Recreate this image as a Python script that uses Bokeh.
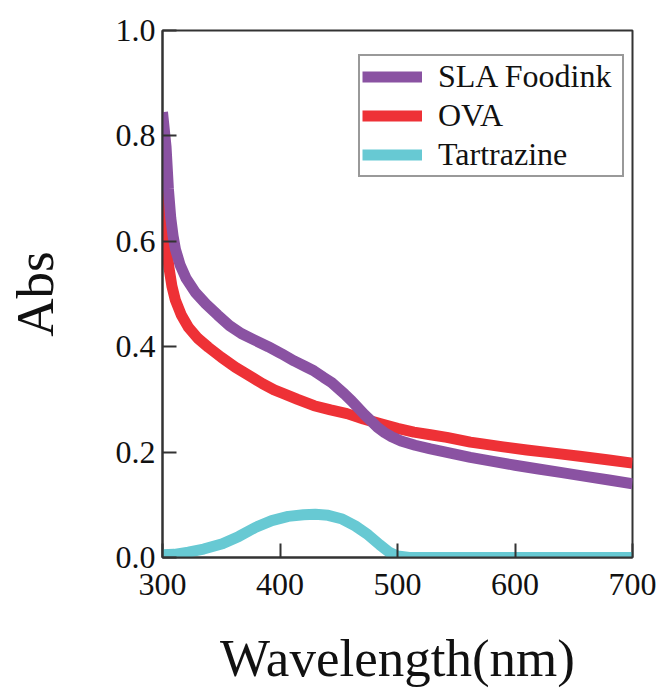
from bokeh.plotting import figure
from bokeh.models import Range1d, FixedTicker, PrintfTickFormatter, Legend, LegendItem
from bokeh.embed import file_html
from bokeh.resources import INLINE

# SLA Foodink
wl_sla = [300, 303, 305, 307, 309, 311, 315, 320, 328, 337, 347, 357, 367, 378, 390, 401,
          412, 422, 429, 437, 444, 449, 455, 461, 466, 472, 478, 483, 489, 495, 503, 515,
          528, 545, 562, 580, 600, 620, 640, 660, 680, 700]
abs_sla = [0.845, 0.78, 0.70, 0.645, 0.61, 0.585, 0.555, 0.53, 0.503, 0.481, 0.46, 0.44,
           0.425, 0.413, 0.40, 0.387, 0.373, 0.362, 0.354, 0.342, 0.332, 0.322, 0.31, 0.297,
           0.285, 0.271, 0.258, 0.247, 0.237, 0.229, 0.221, 0.213, 0.206, 0.198, 0.19, 0.183,
           0.175, 0.168, 0.161, 0.154, 0.147, 0.14]

# OVA
wl_ova = [300, 301, 302, 304, 305.5, 308, 311, 316, 322, 330, 339, 350, 362, 374, 385, 395,
          403, 415, 429, 443, 457, 471, 485, 500, 514, 528, 542, 562, 571, 590, 610, 633,
          655, 680, 700]
abs_ova = [0.80, 0.70, 0.64, 0.58, 0.55, 0.515, 0.488, 0.46, 0.437, 0.416, 0.399, 0.38,
           0.361, 0.345, 0.33, 0.318, 0.311, 0.30, 0.288, 0.28, 0.273, 0.263, 0.254, 0.245,
           0.238, 0.233, 0.228, 0.219, 0.216, 0.21, 0.204, 0.198, 0.192, 0.185, 0.179]

# Tartrazine
wl_tar = [300, 310, 322, 335, 351, 365, 379, 393, 407, 420, 430, 441, 453, 464, 475, 485,
          493, 500, 510, 600, 700]
abs_tar = [0.005, 0.006, 0.01, 0.016, 0.026, 0.04, 0.057, 0.07, 0.078, 0.081, 0.082, 0.08,
           0.073, 0.06, 0.043, 0.024, 0.01, 0.003, 0.0, 0.0, 0.0]

x_ticks = [300, 400, 500, 600, 700]
y_ticks = [0.0, 0.2, 0.4, 0.6, 0.8, 1.0]

FONT = "Liberation Serif"
AX = "#333333"

p = figure(width=660, height=692, output_backend="svg", toolbar_location=None,
           x_range=Range1d(300, 700), y_range=Range1d(0, 1.0),
           min_border_left=162, min_border_right=28, min_border_top=30, min_border_bottom=135)
p.background_fill_color = "white"
p.border_fill_color = "white"
p.outline_line_color = AX
p.outline_line_width = 2
p.xgrid.visible = False
p.ygrid.visible = False

r_tar = p.line(wl_tar, abs_tar, line_color="#67C9D3", line_width=11, line_join="round")
r_ova = p.line(wl_ova, abs_ova, line_color="#EE3136", line_width=11, line_join="round")
r_sla = p.line(wl_sla, abs_sla, line_color="#8A52A2", line_width=11, line_join="round")

for ax, ticks in ((p.xaxis[0], x_ticks), (p.yaxis[0], y_ticks)):
    ax.ticker = FixedTicker(ticks=ticks)
    ax.axis_line_color = AX
    ax.axis_line_width = 2
    ax.major_tick_line_color = AX
    ax.major_tick_line_width = 2
    ax.major_tick_in = 14
    ax.major_tick_out = 0
    ax.minor_tick_line_color = None
    ax.major_label_text_font = FONT
    ax.major_label_text_font_size = "32px"
    ax.major_label_text_color = "#111111"
    ax.axis_label_text_font = FONT
    ax.axis_label_text_font_size = "53px"
    ax.axis_label_text_font_style = "normal"
    ax.axis_label_text_color = "#111111"

p.yaxis[0].formatter = PrintfTickFormatter(format="%.1f")
p.xaxis[0].axis_label = "Wavelength(nm)"
p.yaxis[0].axis_label = "Abs"
p.xaxis[0].major_label_standoff = 16
p.xaxis[0].axis_label_standoff = 31
p.yaxis[0].major_label_standoff = 7
p.yaxis[0].axis_label_standoff = 49

legend = Legend(items=[LegendItem(label="SLA Foodink", renderers=[r_sla]),
                       LegendItem(label="OVA", renderers=[r_ova]),
                       LegendItem(label="Tartrazine", renderers=[r_tar])],
                location=(196, 380))
legend.label_text_font = FONT
legend.label_text_font_size = "32px"
legend.label_text_color = "#111111"
legend.glyph_width = 60
legend.glyph_height = 37
legend.label_height = 37
legend.label_width = 182
legend.spacing = 2
legend.padding = 2
legend.label_standoff = 16
legend.border_line_color = AX
legend.border_line_width = 2
legend.background_fill_alpha = 1.0
legend.margin = 0
p.add_layout(legend)

open("out.html", "w").write(file_html(p, INLINE))
